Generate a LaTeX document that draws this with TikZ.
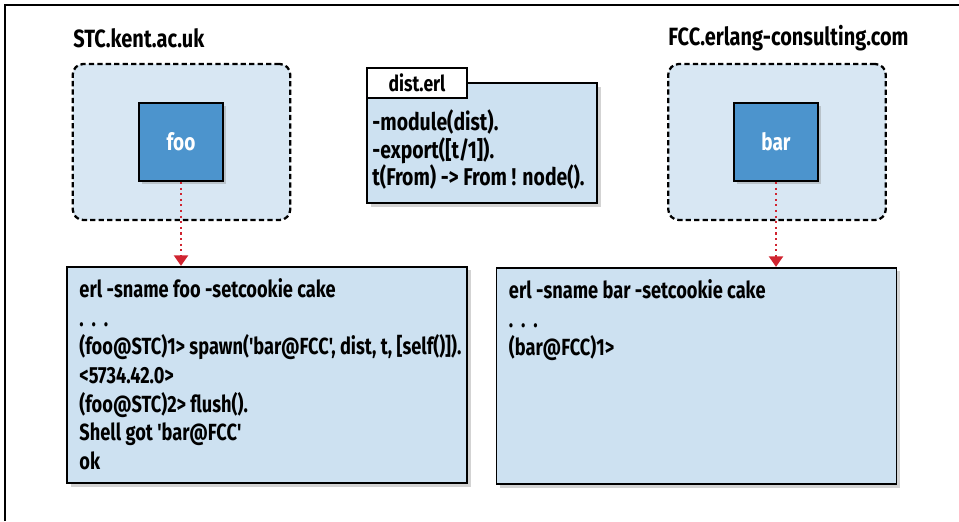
\documentclass[tikz,border=0pt]{standalone}
\usepackage{fontspec}
\setmainfont{Fira Sans}[FakeStretch=0.8, Ligatures=TeXOff]
\usetikzlibrary{positioning,arrows.meta,shadows}
\definecolor{codeblue}{RGB}{205,225,241}
\definecolor{hostblue}{RGB}{216,231,243}
\definecolor{procblue}{RGB}{76,148,205}
\definecolor{msgred}{RGB}{208,36,48}
\newcommand{\codefont}{\fontsize{13.3}{16.3}\selectfont\bfseries\addfontfeature{FakeStretch=0.78}}
\newcommand{\skipdots}{.\,\,.\,\,.}

\begin{document}
\begin{tikzpicture}[x=1cm, y=-1cm,
    hostbox/.style={draw, line width=1.3pt, dash pattern=on 3pt off 1.8pt, rounded corners=6pt, fill=hostblue, minimum width=4.35cm, minimum height=3.12cm},
    procbox/.style={draw, line width=1pt, fill=procblue, text=white, font=\fontsize{13.5}{15}\selectfont\bfseries, minimum width=1.68cm, minimum height=1.56cm, drop shadow={shadow xshift=1.5pt, shadow yshift=-1.5pt, opacity=0.35}},
    codebox/.style={draw, line width=1pt, fill=codeblue, minimum width=8cm, minimum height=4.33cm, drop shadow={shadow xshift=2pt, shadow yshift=-2pt, opacity=0.35}},
    codetext/.style={anchor=north west, inner sep=0pt, align=left, font=\codefont},
    title/.style={anchor=west, inner sep=0pt, font=\fontsize{14.2}{16}\selectfont\bfseries},
    msg/.style={msgred, line width=1.2pt, dotted, -{Triangle[width=8pt,length=6pt]}}]
  \useasboundingbox (0,0) rectangle (19.18,10.42);
  \draw[line width=0.9pt] (0.1,10.42) -- (0.1,0.1) -- (19.18,0.1);

  % hosts
  \node[title] (stc) at (1.46,0.76) {STC.kent.ac.uk};
  \node[title] (fcc) at (13.36,0.76) {FCC.erlang-consulting.com};
  \node[hostbox] (stchost) at (3.63,2.84) {};
  \node[hostbox] (fcchost) at (15.54,2.84) {};
  \node[procbox] (foo) at (3.62,2.84) {foo};
  \node[procbox] (bar) at (15.52,2.84) {bar};

  % module file
  \node[draw, line width=1pt, fill=codeblue, minimum width=4.6cm, minimum height=2.4cm,
        drop shadow={shadow xshift=2pt, shadow yshift=-2pt, opacity=0.35}] (dist) at (9.64,2.86) {};
  \node[draw, line width=1pt, fill=white, minimum width=2cm, minimum height=0.6cm,
        font=\fontsize{12.5}{14}\selectfont\bfseries] (distname) at (8.34,1.66) {dist.erl};
  \node[anchor=north west, inner sep=0pt, align=left, font=\fontsize{13.8}{15.6}\selectfont\bfseries]
    (distcode) at ([xshift=0.12cm, yshift=-0.55cm]dist.north west)
    {-module(dist).\\-export([t/1]).\\t(From) -> From ! node().};

  % shells
  \node[codebox] (stcshell) at (5.34,7.5) {};
  \node[codebox] (fccshell) at (13.93,7.52) {};
  \node[codetext] (stccode) at ([xshift=0.26cm, yshift=-0.25cm]stcshell.north west)
    {erl -sname foo -setcookie cake\\\skipdots\\(foo@STC)1> spawn('bar@FCC', dist, t, [self()]).\\<5734.42.0>\\(foo@STC)2> flush().\\Shell got 'bar@FCC'\\ok};
  \node[codetext] (fcccode) at ([xshift=0.26cm, yshift=-0.25cm]fccshell.north west)
    {erl -sname bar -setcookie cake\\\skipdots\\(bar@FCC)1>};

  \draw[msg] (foo.south) -- (foo.south |- stcshell.north);
  \draw[msg] (bar.south) -- (bar.south |- fccshell.north);
\end{tikzpicture}
\end{document}
